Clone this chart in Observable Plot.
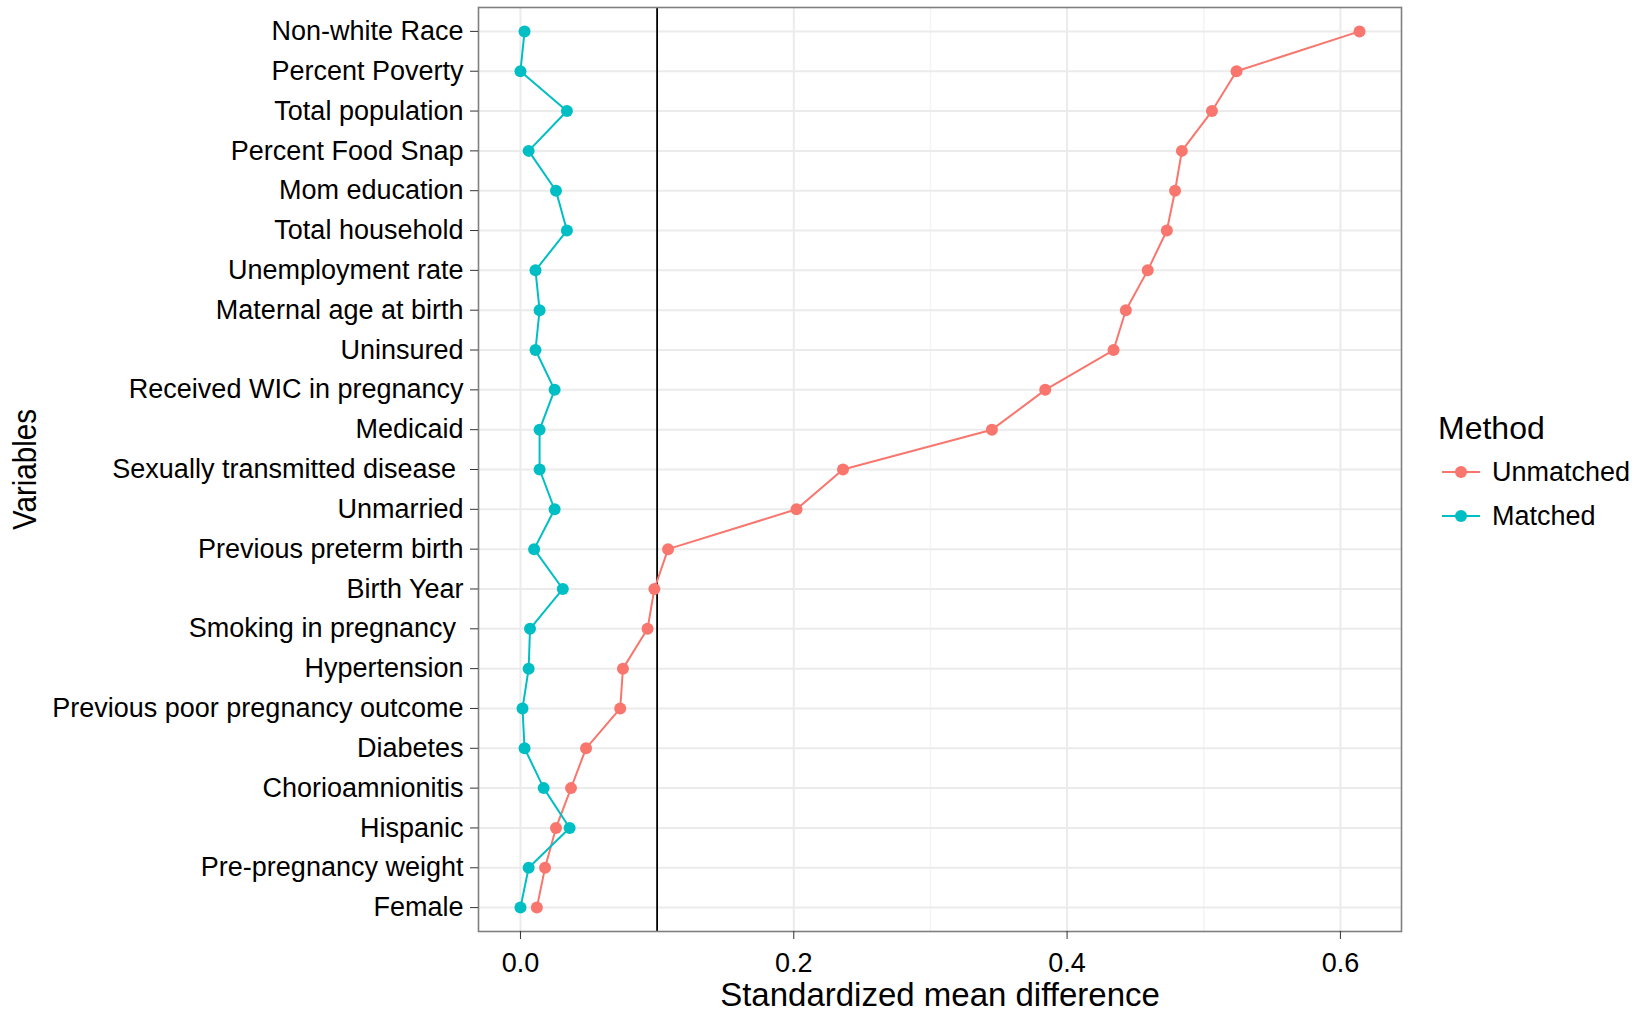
<!DOCTYPE html>
<html>
<head>
<meta charset="utf-8">
<script src="https://cdn.jsdelivr.net/npm/d3@7"></script>
<script src="https://cdn.jsdelivr.net/npm/@observablehq/plot@0.6"></script>
<style>
  html, body { margin: 0; padding: 0; background: #fff; }
  #wrap { position: relative; width: 1643px; height: 1016px; font-family: "Liberation Sans", Arial, Helvetica, sans-serif; }
  #wrap svg text { fill: #000; }
  g[aria-label="x-axis label"] text, g[aria-label="y-axis label"] text { font-size: 33px; }
  #legend { position: absolute; left: 1438px; top: 410px; color: #000; }
  #legend .title { font-size: 32px; line-height: 36px; margin-bottom: 4px; }
  #legend .item { display: flex; align-items: center; height: 44px; font-size: 27px; }
  #legend .item svg { margin-left: 4px; margin-right: 12px; }
</style>
</head>
<body>
<div id="wrap"></div>
<script>
const variables = [
  "Non-white Race", "Percent Poverty", "Total population", "Percent Food Snap",
  "Mom education", "Total household", "Unemployment rate", "Maternal age at birth",
  "Uninsured", "Received WIC in pregnancy", "Medicaid", "Sexually transmitted disease ",
  "Unmarried", "Previous preterm birth", "Birth Year", "Smoking in pregnancy ",
  "Hypertension", "Previous poor pregnancy outcome", "Diabetes", "Chorioamnionitis",
  "Hispanic", "Pre-pregnancy weight", "Female"
];
const unmatched = [
  0.614, 0.524, 0.506, 0.484, 0.479, 0.473, 0.459, 0.443,
  0.434, 0.384, 0.345, 0.236, 0.202, 0.108, 0.098, 0.093,
  0.075, 0.073, 0.048, 0.037, 0.026, 0.018, 0.012
];
const matched = [
  0.003, 0.000, 0.034, 0.006, 0.026, 0.034, 0.011, 0.014,
  0.011, 0.025, 0.014, 0.014, 0.025, 0.010, 0.031, 0.007,
  0.006, 0.0015, 0.003, 0.017, 0.036, 0.006, 0.000
];
const methods = ["Unmatched", "Matched"];
const methodColors = ["#F8766D", "#00BFC4"];
const xTicks = [0, 0.2, 0.4, 0.6];
const xMinorTicks = [0.1, 0.3, 0.5];
const threshold = [0.1];

const data = methods.flatMap((m, i) =>
  variables.map((v, j) => ({Variable: v, Method: m, smd: (i === 0 ? unmatched : matched)[j]}))
);

const xmin = 0, xmax = d3.max(data, d => d.smd);
const pad = (xmax - xmin) * 0.05;

const chart = Plot.plot({
  width: 1643,
  height: 1016,
  marginLeft: 478,
  marginRight: 242,
  marginTop: 7,
  marginBottom: 85,
  style: {fontFamily: '"Liberation Sans", Arial, Helvetica, sans-serif', fontSize: "27px", background: "#fff"},
  x: {domain: [xmin - pad, xmax + pad]},
  y: {type: "point", domain: variables, padding: 0.6, round: false},
  color: {domain: methods, range: methodColors},
  marks: [
    Plot.ruleX(xMinorTicks, {stroke: "#f4f4f4", strokeWidth: 1.5}),
    Plot.ruleX(xTicks, {stroke: "#ebebeb", strokeWidth: 2}),
    Plot.ruleY(variables, {stroke: "#ebebeb", strokeWidth: 2}),
    Plot.ruleX(threshold, {stroke: "#000", strokeWidth: 1.8}),
    Plot.line(data, {x: "smd", y: "Variable", z: "Method", stroke: "Method", strokeWidth: 2}),
    Plot.dot(data, {x: "smd", y: "Variable", fill: "Method", r: 6}),
    Plot.frame({stroke: "#7f7f7f", strokeWidth: 1.6}),
    Plot.axisX({ticks: xTicks, tickFormat: d3.format(".1f"), tickSize: 8, tickPadding: 13, stroke: "#333",
      label: "Standardized mean difference", labelAnchor: "center", labelOffset: 74, labelArrow: "none"}),
    Plot.axisY({tickSize: 8, tickPadding: 7, stroke: "#333",
      tickFormat: d => d.replace(/ $/, "\u00a0"),
      label: "Variables", labelAnchor: "center", labelOffset: 466, labelArrow: "none"})
  ]
});
const wrap = document.getElementById("wrap");
wrap.appendChild(chart);

// strip any arrow glyphs and tighten the rotated y title like the reference
for (const t of chart.querySelectorAll('g[aria-label="x-axis label"] text, g[aria-label="y-axis label"] text')) {
  t.textContent = t.textContent.replace(/[\u2190-\u2193]/g, "").trim();
}
const yl = chart.querySelector('g[aria-label="y-axis label"] text');
if (yl) { yl.setAttribute("textLength", "121"); yl.setAttribute("lengthAdjust", "spacingAndGlyphs"); }

const legend = document.createElement("div");
legend.id = "legend";
legend.innerHTML = `<div class="title">Method</div>` + methods.map((m, i) =>
  `<div class="item"><svg width="38" height="20"><line x1="0" y1="10" x2="38" y2="10" stroke="${methodColors[i]}" stroke-width="2"/><circle cx="19" cy="10" r="6" fill="${methodColors[i]}"/></svg><span>${m}</span></div>`
).join("");
wrap.appendChild(legend);
</script>
</body>
</html>
